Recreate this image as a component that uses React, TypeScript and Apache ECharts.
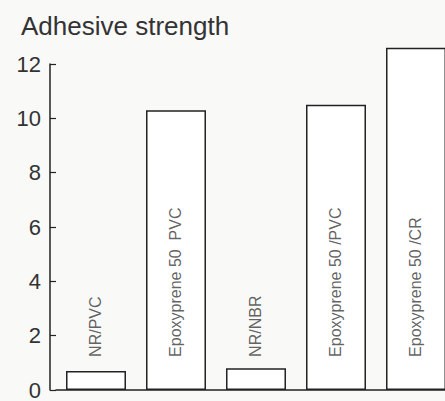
import React, { useEffect, useRef } from "react";
import * as echarts from "echarts";

const categories = ["NR/PVC", "Epoxyprene 50  PVC", "NR/NBR", "Epoxyprene 50 /PVC", "Epoxyprene 50 /CR"];
const strengths = [0.7, 10.3, 0.8, 10.5, 12.6];
const labelAnchor = [1.2, 1.2, 1.2, 1.2, 1.2];
const yTicks = { min: 0, max: 12, interval: 2 };
const titleText = "Adhesive strength";

const FONT = "'Liberation Sans', Arial, Helvetica, sans-serif";
const INK = "#222";

export default function App() {
  const ref = useRef<HTMLDivElement>(null);
  useEffect(() => {
    if (!ref.current) return;
    const chart = echarts.init(ref.current, undefined, { renderer: "svg" });
    chart.setOption({
      animation: false,
      backgroundColor: "#f9f9f7",
      title: {
        text: titleText,
        left: 16,
        top: 8,
        textStyle: { fontFamily: FONT, fontSize: 26, fontWeight: "normal", color: "#333" },
      },
      grid: { left: 56, right: 14, top: 64, bottom: 10, containLabel: false },
      xAxis: {
        type: "category",
        data: categories,
        axisLine: { show: true, lineStyle: { color: INK, width: 1.5 } },
        axisTick: { show: false },
        axisLabel: { show: false },
      },
      yAxis: {
        type: "value",
        min: yTicks.min,
        max: yTicks.max,
        interval: yTicks.interval,
        offset: 6,
        splitLine: { show: false },
        axisLine: { show: true, lineStyle: { color: INK, width: 1.5 } },
        axisTick: { show: true, inside: true, length: 6, lineStyle: { color: INK, width: 1.2 } },
        axisLabel: { fontFamily: FONT, fontSize: 22, color: "#333", margin: 9 },
      },
      series: [
        {
          type: "bar",
          data: strengths,
          barWidth: 60,
          clip: false,
          itemStyle: { color: "#ffffff", borderColor: INK, borderWidth: 1.5 },
        },
        {
          type: "scatter",
          data: categories.map((c, i) => [c, labelAnchor[i]]),
          symbolSize: 1,
          z: 5,
          itemStyle: { color: "transparent" },
          label: {
            show: true,
            position: [0, 0],
            rotate: 90,
            align: "left",
            verticalAlign: "middle",
            formatter: (p: any) => categories[p.dataIndex],
            fontFamily: FONT,
            fontSize: 16,
            color: "#3a3a3a",
          },
        },
      ],
    });
    return () => chart.dispose();
  }, []);
  return (
    <div style={{ position: "fixed", left: 0, top: 0, width: 445, height: 401, overflow: "hidden" }}>
      <div ref={ref} style={{ width: 470, height: 401 }} />
    </div>
  );
}
